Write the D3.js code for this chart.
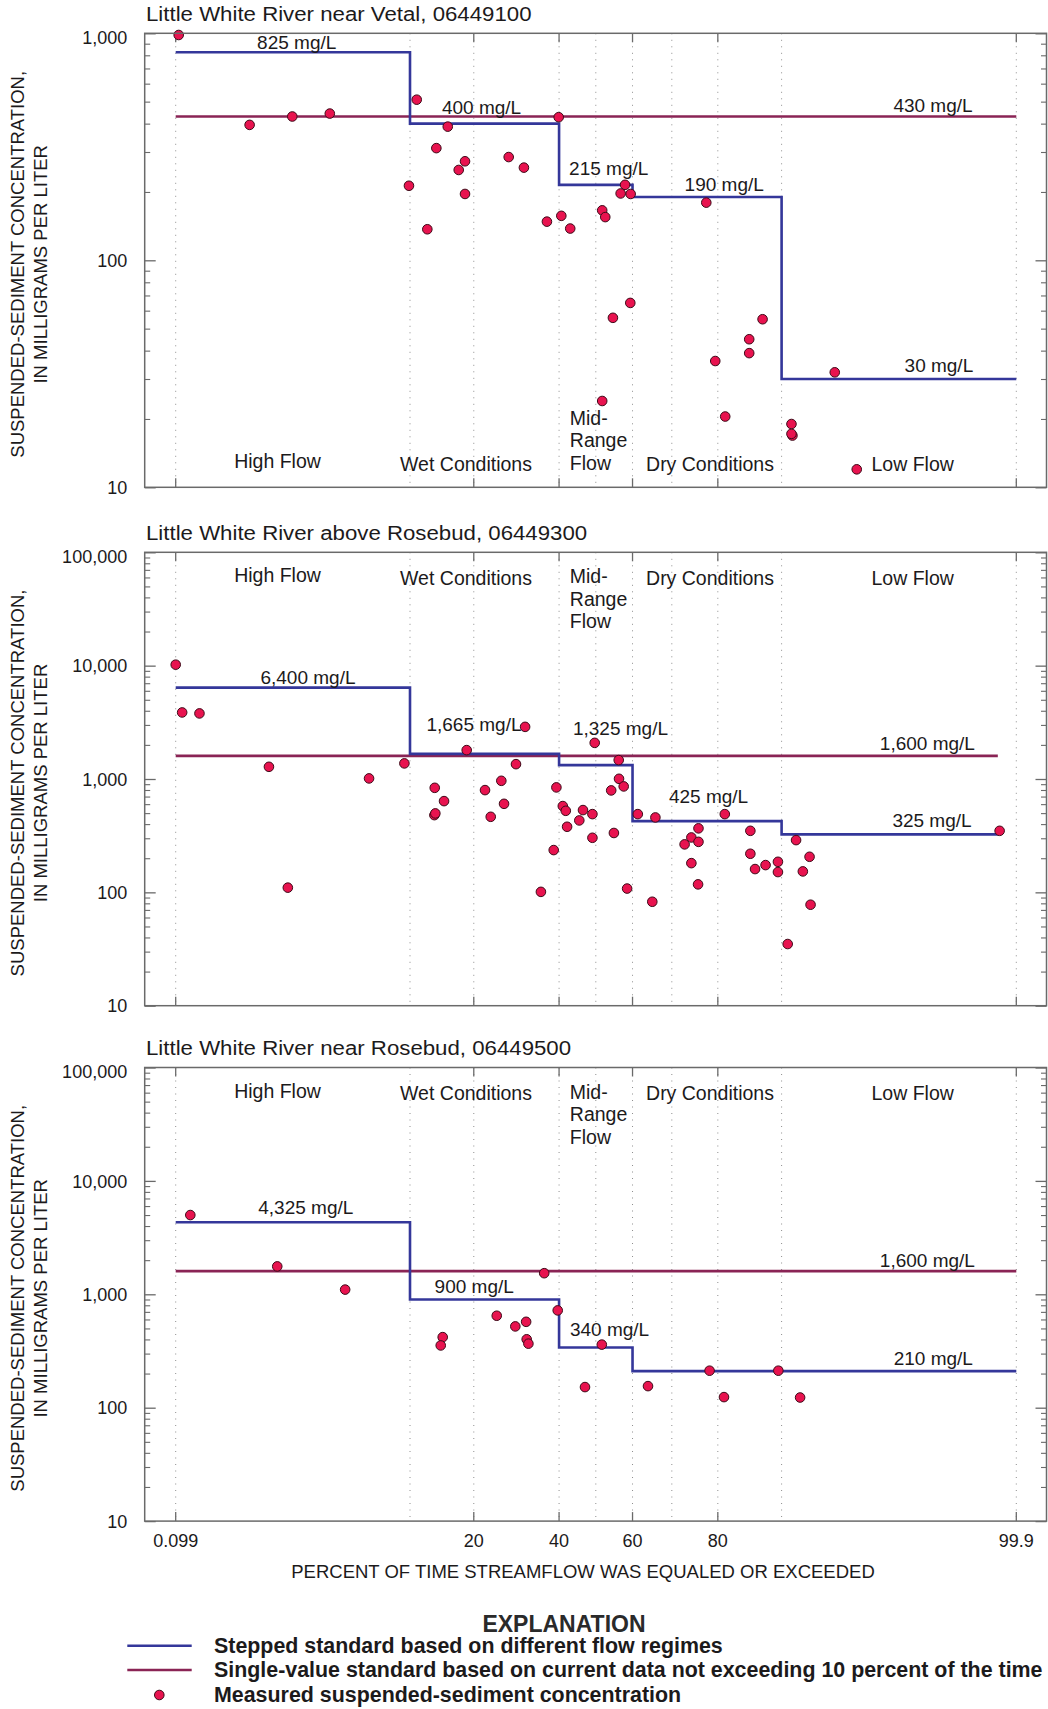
<!DOCTYPE html>
<html>
<head>
<meta charset="utf-8">
<script src="https://cdn.jsdelivr.net/npm/d3@7"></script>
<style>
  body { margin: 0; background: #fff; }
  svg { display: block; font-family: "Liberation Sans", Arial, Helvetica, sans-serif; }
</style>
</head>
<body>
<script>
// ---------------- data ----------------
const siteTitles = [
  "Little White River near Vetal, 06449100",
  "Little White River above Rosebud, 06449300",
  "Little White River near Rosebud, 06449500"
];
const flowBreaks   = [0.099, 10, 40, 60, 90, 99.9];           // flow-regime boundaries, percent exceedance
const xTickValues  = [0.099, 20, 40, 60, 80, 99.9];
const xTickLabels  = ["0.099", "20", "40", "60", "80", "99.9"];
const xGridValues  = [0.099, 10, 20, 40, 50, 60, 70, 80, 90, 99.9];
const regimeNames  = ["High Flow", "Wet Conditions", "Mid-|Range|Flow", "Dry Conditions", "Low Flow"];

// 06449100 — Little White River near Vetal
const vetalPct = [0.107, 0.584, 1.42, 2.86, 9.86, 10.84, 12.26, 13.57, 15.36, 17.22,
                  18.35, 18.35, 27.4, 31.0, 36.8, 39.9, 40.6, 43.0, 51.76, 52.6,
                  54.7, 51.76, 58.0, 56.8, 59.5, 59.4, 77.7, 79.5, 81.4, 85.5,
                  85.5, 87.5, 91.27, 91.39, 91.27, 95.46, 96.86];
const vetalSSC = [983, 395, 430, 443, 213, 510, 137, 312, 388, 250,
                  273, 196, 285, 256, 148, 427, 157, 138, 166, 155,
                  55.8, 24.0, 215, 197, 196, 64.9, 179.5, 36.0, 20.5, 44.9,
                  39.0, 55.0, 19.0, 16.9, 17.2, 32.1, 12.0];
const vetalSteps  = [825, 400, 215, 190, 30];
const vetalSingle = 430;
const vetalEnd    = 99.9;

// 06449300 — Little White River above Rosebud
const abovePct = [0.099, 0.117, 0.181, 0.884, 1.30, 5.50, 9.26, 13.33, 14.76, 13.28,
                  13.42, 18.66, 22.24, 23.43, 25.73, 26.34, 29.1, 31.29, 35.25, 38.58,
                  39.29, 41.0, 41.8, 42.15, 45.47, 46.48, 49.07, 49.07, 49.7, 54.23,
                  54.97, 56.28, 56.36, 57.63, 58.55, 61.4, 65.16, 65.95, 72.99, 74.51,
                  76.06, 76.06, 74.51, 75.97, 81.32, 85.68, 85.68, 86.4, 87.92, 89.55,
                  89.55, 90.8, 91.82, 92.58, 93.28, 93.38, 99.847];
const aboveSSC = [10200, 3865, 3789, 1281, 110, 1012, 1373, 836, 638, 480,
                  497, 1798, 798, 464, 964, 604, 1352, 2884, 101, 236,
                  843, 577, 524, 379, 431, 532, 490, 303, 2084, 793,
                  334, 1468, 1004, 860, 108, 490, 82.6, 458, 265, 305,
                  367, 279, 181, 117.6, 490, 349, 219, 160.5, 174, 186,
                  151, 35.0, 289, 153, 206, 77.8, 349];
const aboveSteps  = [6400, 1665, 1325, 425, 325];
const aboveSingle = 1600;
const aboveEnd    = 99.84;

// 06449500 — Little White River near Rosebud
const nearPct = [0.144, 1.05, 3.73, 14.55, 14.24, 24.72, 28.94, 31.54, 31.68, 32.1,
                 36.1, 39.64, 47.03, 51.65, 64.06, 78.37, 81.17, 89.6, 92.28];
const nearSSC = [5000, 1762, 1100, 419, 354, 647, 521, 572, 401, 367,
                 1535, 721, 152, 360, 155, 212, 124, 212, 123];
const nearSteps  = [4325, 900, 340, 210, 210];
const nearSingle = 1600;
const nearEnd    = 99.9;

// ---------------- helpers ----------------
// Inverse standard normal CDF (Acklam's rational approximation)
function probit(p) {
  const a = [-3.969683028665376e+01, 2.209460984245205e+02, -2.759285104469687e+02,
             1.383577518672690e+02, -3.066479806614716e+01, 2.506628277459239e+00];
  const b = [-5.447609879822406e+01, 1.615858368580409e+02, -1.556989798598866e+02,
             6.680131188771972e+01, -1.328068155288572e+01];
  const c = [-7.784894002430293e-03, -3.223964580411365e-01, -2.400758277161838e+00,
             -2.549732539343734e+00, 4.374664141464968e+00, 2.938163982698783e+00];
  const d = [7.784695709041462e-03, 3.224671290700398e-01, 2.445134137142996e+00,
             3.754408661907416e+00];
  const pl = 0.02425, ph = 1 - pl;
  let q, r;
  if (p < pl) {
    q = Math.sqrt(-2 * Math.log(p));
    return (((((c[0]*q+c[1])*q+c[2])*q+c[3])*q+c[4])*q+c[5]) / ((((d[0]*q+d[1])*q+d[2])*q+d[3])*q+1);
  }
  if (p <= ph) {
    q = p - 0.5; r = q * q;
    return (((((a[0]*r+a[1])*r+a[2])*r+a[3])*r+a[4])*r+a[5])*q / (((((b[0]*r+b[1])*r+b[2])*r+b[3])*r+b[4])*r+1);
  }
  q = Math.sqrt(-2 * Math.log(1 - p));
  return -(((((c[0]*q+c[1])*q+c[2])*q+c[3])*q+c[4])*q+c[5]) / ((((d[0]*q+d[1])*q+d[2])*q+d[3])*q+1);
}

// ---------------- layout ----------------
const W = 1048, H = 1709;
const FRAME_L = 144.7, FRAME_R = 1046.5;
const COL_STEP = "#34379a", COL_SINGLE = "#8a2455", COL_DOT = "#e8134f";
const COL_TEXT = "#1c1a1b", COL_FRAME = "#6a6a6a";
const DOT_R = 4.8;

// probability (normal-quantile) axis, slightly compressed in the tails
const x = d3.scaleLinear()
  .domain([probit(0.00099), probit(0.10), probit(0.90), probit(0.999)])
  .range([175.7, 410, 781.6, 1016.3]);
const xp = p => x(probit(p / 100));

const panels = [
  { title: siteTitles[0], top: 33.3, bottom: 487.3, yMax: 1000,
    pct: vetalPct, ssc: vetalSSC, steps: vetalSteps, single: vetalSingle, end: vetalEnd,
    regimesAtTop: false,
    stepLabels: [ {i: 0, cx: 296.7, dy: -3}, {i: 1, cx: 481.6, dy: -10}, {i: 2, cx: 608.7, dy: -10},
                  {i: 3, cx: 724.2, dy: -6}, {i: 4, cx: 938.9, dy: -6.5} ],
    singleLabel: {cx: 933, dy: -5} },
  { title: siteTitles[1], top: 552.3, bottom: 1005.7, yMax: 100000,
    pct: abovePct, ssc: aboveSSC, steps: aboveSteps, single: aboveSingle, end: aboveEnd,
    regimesAtTop: true,
    stepLabels: [ {i: 0, cx: 308, dy: -4}, {i: 1, cx: 474, dy: -23}, {i: 2, cx: 620.5, dy: -30},
                  {i: 3, cx: 708.6, dy: -18.5}, {i: 4, cx: 932, dy: -7.5} ],
    singleLabel: {cx: 927.4, dy: -6.3} },
  { title: siteTitles[2], top: 1067.5, bottom: 1521.1, yMax: 100000,
    pct: nearPct, ssc: nearSSC, steps: nearSteps, single: nearSingle, end: nearEnd,
    regimesAtTop: true,
    stepLabels: [ {i: 0, cx: 305.8, dy: -8}, {i: 1, cx: 474.2, dy: -6.7}, {i: 2, cx: 609.6, dy: -11},
                  {i: 4, cx: 933.3, dy: -5.8} ],
    singleLabel: {cx: 927.4, dy: -4} }
];

// horizontal placement of the flow-regime captions
const regimeCx = [277.5, 466, null, 710, 912.7];
const midRangeX = 569.8;

const svg = d3.select("body").append("svg").attr("width", W).attr("height", H);
const fmt = d3.format(",");

function stretch(sel, factor) {
  sel.each(function () {
    const len = this.getComputedTextLength();
    d3.select(this).attr("textLength", len * factor).attr("lengthAdjust", "spacingAndGlyphs");
  });
}

panels.forEach((P, pi) => {
  const g = svg.append("g");
  const y = d3.scaleLog().domain([10, P.yMax]).range([P.bottom, P.top]);
  const majors = y.ticks().filter(v => Math.abs(Math.log10(v) - Math.round(Math.log10(v))) < 1e-9);
  const minors = y.ticks().filter(v => !majors.includes(v));

  // title
  g.append("text").attr("x", 146).attr("y", P.top - 12.5)
    .attr("font-size", 19.5).attr("fill", COL_TEXT).text(P.title)
    .call(stretch, 1.14);

  // dotted vertical gridlines
  g.append("g").selectAll("line").data(xGridValues).join("line")
    .attr("x1", d => xp(d)).attr("x2", d => xp(d))
    .attr("y1", P.top).attr("y2", P.bottom)
    .attr("stroke", "#8e8e8e").attr("stroke-width", 1).attr("stroke-dasharray", "1,5.5");

  // y axis ticks (inward), left and right
  const leftMajor = d3.axisLeft(y).tickValues(majors).tickSize(-11).tickPadding(17.5)
    .tickFormat(fmt);
  const gl = g.append("g").attr("transform", `translate(${FRAME_L},0)`).call(leftMajor);
  gl.select(".domain").remove();
  gl.selectAll(".tick line").attr("stroke", COL_FRAME).attr("stroke-width", 1.3);
  gl.selectAll(".tick text").attr("font-size", 18).attr("fill", COL_TEXT)
    .attr("font-family", "Liberation Sans, Arial, sans-serif")
    .attr("dy", d => d === P.yMax ? "0.55em" : "0.34em");

  const leftMinor = d3.axisLeft(y).tickValues(minors).tickSize(-5.5).tickFormat("");
  const glm = g.append("g").attr("transform", `translate(${FRAME_L},0)`).call(leftMinor);
  glm.select(".domain").remove();
  glm.selectAll(".tick line").attr("stroke", COL_FRAME).attr("stroke-width", 1.1);

  const rightMajor = d3.axisRight(y).tickValues(majors).tickSize(-11).tickFormat("");
  const gr = g.append("g").attr("transform", `translate(${FRAME_R},0)`).call(rightMajor);
  gr.select(".domain").remove();
  gr.selectAll(".tick line").attr("stroke", COL_FRAME).attr("stroke-width", 1.3);
  const rightMinor = d3.axisRight(y).tickValues(minors).tickSize(-5.5).tickFormat("");
  const grm = g.append("g").attr("transform", `translate(${FRAME_R},0)`).call(rightMinor);
  grm.select(".domain").remove();
  grm.selectAll(".tick line").attr("stroke", COL_FRAME).attr("stroke-width", 1.1);

  // x ticks (inward) on top and bottom frames
  [[P.top, 9], [P.bottom, -9]].forEach(([yy, len]) => {
    g.append("g").selectAll("line").data(xTickValues).join("line")
      .attr("x1", d => xp(d)).attr("x2", d => xp(d))
      .attr("y1", yy).attr("y2", yy + len)
      .attr("stroke", COL_FRAME).attr("stroke-width", 1.3);
  });

  // single-value standard
  g.append("path")
    .datum([[flowBreaks[0], P.single], [P.end, P.single]])
    .attr("d", d3.line().x(d => xp(d[0])).y(d => y(d[1])))
    .attr("fill", "none").attr("stroke", COL_SINGLE).attr("stroke-width", 2.6);

  // stepped standard
  const stepPts = P.steps.map((v, i) => [flowBreaks[i], v]);
  stepPts.push([P.end, P.steps[P.steps.length - 1]]);
  g.append("path").datum(stepPts)
    .attr("d", d3.line().x(d => xp(d[0])).y(d => y(d[1])).curve(d3.curveStepAfter))
    .attr("fill", "none").attr("stroke", COL_STEP).attr("stroke-width", 2.6);

  // measured concentrations
  g.append("g").selectAll("circle").data(P.pct.map((p, i) => [p, P.ssc[i]])).join("circle")
    .attr("cx", d => xp(d[0])).attr("cy", d => y(d[1])).attr("r", DOT_R)
    .attr("fill", COL_DOT).attr("stroke", "#3d0a18").attr("stroke-width", 1);

  // standard labels
  P.stepLabels.forEach(L => {
    g.append("text").attr("x", L.cx).attr("y", y(P.steps[L.i]) + L.dy)
      .attr("text-anchor", "middle").attr("font-size", 19).attr("fill", COL_TEXT)
      .text(fmt(P.steps[L.i]) + " mg/L");
  });
  g.append("text").attr("x", P.singleLabel.cx).attr("y", y(P.single) + P.singleLabel.dy)
    .attr("text-anchor", "middle").attr("font-size", 19).attr("fill", COL_TEXT)
    .text(fmt(P.single) + " mg/L");

  // flow-regime captions
  const rg = g.append("g").attr("font-size", 19.5).attr("fill", COL_TEXT);
  const base = P.regimesAtTop
    ? { high: P.top + 30, wide: P.top + 32.8, mid: [P.top + 31, P.top + 53.5, P.top + 76] }
    : { high: P.bottom - 19, wide: P.bottom - 16.5, mid: [P.bottom - 62.3, P.bottom - 40, P.bottom - 17.3] };
  regimeNames.forEach((name, i) => {
    if (name.includes("|")) {
      name.split("|").forEach((part, k) => {
        rg.append("text").attr("x", midRangeX).attr("y", base.mid[k]).text(part);
      });
    } else {
      rg.append("text").attr("x", regimeCx[i]).attr("y", i === 0 ? base.high : base.wide)
        .attr("text-anchor", "middle").text(name);
    }
  });

  // y-axis title
  const cy = (P.top + P.bottom) / 2 + 4;
  const yt = g.append("g").attr("font-size", 18.5).attr("fill", COL_TEXT).attr("text-anchor", "middle");
  yt.append("text").attr("transform", `translate(24,${cy}) rotate(-90)`).text("SUSPENDED-SEDIMENT CONCENTRATION,");
  yt.append("text").attr("transform", `translate(46.5,${cy}) rotate(-90)`).text("IN MILLIGRAMS PER LITER");

  // plot frame
  g.append("rect").attr("x", FRAME_L).attr("y", P.top)
    .attr("width", FRAME_R - FRAME_L).attr("height", P.bottom - P.top)
    .attr("fill", "none").attr("stroke", COL_FRAME).attr("stroke-width", 1.5);

  // x tick labels and axis title under the last panel
  if (pi === panels.length - 1) {
    g.append("g").selectAll("text").data(xTickValues).join("text")
      .attr("x", d => xp(d)).attr("y", P.bottom + 26)
      .attr("text-anchor", "middle").attr("font-size", 18).attr("fill", COL_TEXT)
      .text((d, i) => xTickLabels[i]);
    g.append("text").attr("x", 583).attr("y", P.bottom + 57)
      .attr("text-anchor", "middle").attr("font-size", 18.5).attr("fill", COL_TEXT)
      .text("PERCENT OF TIME STREAMFLOW WAS EQUALED OR EXCEEDED");
  }
});

// ---------------- explanation ----------------
const lg = svg.append("g").attr("font-weight", "bold").attr("fill", COL_TEXT);
lg.append("text").attr("x", 564).attr("y", 1631.5).attr("text-anchor", "middle")
  .attr("font-size", 23).attr("fill", "#2a2a2a").text("EXPLANATION");
lg.append("line").attr("x1", 127.3).attr("x2", 191.7).attr("y1", 1645.7).attr("y2", 1645.7)
  .attr("stroke", COL_STEP).attr("stroke-width", 2.6);
lg.append("line").attr("x1", 127.3).attr("x2", 191.7).attr("y1", 1670).attr("y2", 1670)
  .attr("stroke", COL_SINGLE).attr("stroke-width", 2.6);
lg.append("circle").attr("cx", 159.3).attr("cy", 1695).attr("r", DOT_R)
  .attr("fill", COL_DOT).attr("stroke", "#3d0a18").attr("stroke-width", 1);
const legendText = [
  "Stepped standard based on different flow regimes",
  "Single-value standard based on current data not exceeding 10 percent of the time",
  "Measured suspended-sediment concentration"
];
const legendY = [1652.7, 1677.3, 1701.7];
legendText.forEach((t, i) => {
  lg.append("text").attr("x", 214).attr("y", legendY[i]).attr("font-size", 21.4).text(t);
});
</script>
</body>
</html>
